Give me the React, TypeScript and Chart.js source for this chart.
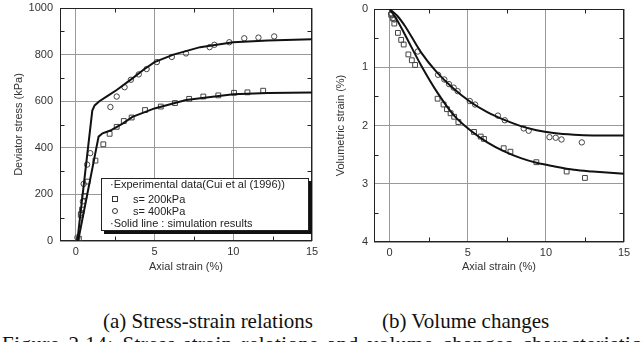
import React, { useEffect, useRef } from "react";
import { Chart, registerables } from "chart.js";

Chart.register(...registerables);

const FONT = '"Liberation Sans", Arial, sans-serif';
const SERIF = '"Liberation Serif", "Times New Roman", serif';
const TEXT = "#333";

// Axis ticks
const X_TICKS = [0, 5, 10, 15];
const X_MINOR = [2.5, 7.5, 12.5];
const STRESS_TICKS = [0, 200, 400, 600, 800, 1000];
const STRESS_MINOR = [100, 300, 500, 700, 900];
const VOL_TICKS = [0, 1, 2, 3, 4];
const VOL_MINOR = [0.5, 1.5, 2.5, 3.5];

// (a) Stress-strain: simulation lines
const SIM400_X = [0.1, 1.05, 1.2, 1.5, 2.0, 2.6, 3.6, 4.3, 5.0, 6.2, 7.9, 10.0, 12.2, 15];
const SIM400_Y = [0, 560, 582, 600, 622, 648, 698, 735, 768, 800, 832, 853, 861, 866];
const SIM200_X = [0.15, 1.45, 1.7, 2.2, 3.0, 3.6, 5.0, 7.0, 10.0, 12.2, 15];
const SIM200_Y = [0, 448, 462, 474, 505, 533, 569, 605, 630, 635, 637];

// (a) Stress-strain: experimental data
const EXP200_X = [0.2, 0.32, 0.4, 0.55, 0.75, 1.25, 1.75, 2.15, 2.6, 3.05, 3.55, 4.4, 5.4, 6.3, 7.2, 8.1, 9.05, 10.05, 10.9, 11.9];
const EXP200_Y = [10, 112, 135, 193, 255, 345, 415, 460, 490, 515, 530, 562, 577, 592, 610, 620, 625, 636, 638, 645];
const EXP400_X = [0.1, 0.35, 0.45, 0.5, 0.72, 0.92, 2.2, 2.6, 3.1, 3.5, 4.0, 4.5, 5.15, 6.1, 7.0, 8.5, 8.8, 9.75, 10.7, 11.6, 12.6];
const EXP400_Y = [15, 120, 170, 245, 328, 377, 575, 620, 660, 692, 715, 738, 768, 790, 805, 832, 842, 853, 870, 873, 878];

// (b) Volume changes: simulation lines
const VSIM400_X = [0, 0.5, 1, 2, 3, 4.1, 5.2, 6.25, 7.3, 8.4, 9.4, 10.5, 11.8, 13, 15];
const VSIM400_Y = [0, 0.12, 0.3, 0.74, 1.08, 1.37, 1.6, 1.77, 1.9, 2.01, 2.08, 2.13, 2.16, 2.17, 2.17];
const VSIM200_X = [0, 0.5, 1, 2, 3.07, 4.13, 5.2, 6.25, 7.3, 8.4, 9.4, 10.5, 11.8, 13, 15];
const VSIM200_Y = [0, 0.2, 0.45, 0.96, 1.44, 1.83, 2.09, 2.29, 2.44, 2.56, 2.64, 2.7, 2.76, 2.79, 2.83];

// (b) Volume changes: experimental data
const VEXP200_X = [0.1, 0.2, 0.3, 0.53, 0.74, 0.9, 1.2, 1.42, 1.63, 3.07, 3.45, 3.67, 3.9, 4.13, 4.4, 5.4, 5.83, 6.04, 7.3, 7.73, 9.39, 11.33, 12.5];
const VEXP200_Y = [0.1, 0.16, 0.25, 0.41, 0.53, 0.61, 0.78, 0.88, 0.96, 1.54, 1.64, 1.72, 1.79, 1.85, 1.94, 2.11, 2.19, 2.23, 2.39, 2.45, 2.63, 2.79, 2.9];
const VEXP400_X = [0.1, 0.3, 1.8, 3.1, 3.5, 3.8, 4.1, 4.35, 5.13, 5.47, 6.93, 7.37, 8.58, 8.9, 10.23, 10.63, 11.0, 12.3];
const VEXP400_Y = [0.08, 0.18, 0.73, 1.13, 1.21, 1.29, 1.35, 1.41, 1.58, 1.64, 1.83, 1.91, 2.05, 2.09, 2.2, 2.21, 2.24, 2.29];

const pts = (xs: number[], ys: number[]) => xs.map((x, i) => ({ x, y: ys[i] }));

const framePlugin = {
  id: "frame",
  beforeDatasetsDraw(chart: any, _args: any, opts: any) {
    const { ctx, chartArea: a, scales } = chart;
    ctx.save();
    ctx.strokeStyle = "#222";
    ctx.lineWidth = 1;
    const L = Math.round(a.left) + 0.5;
    const T = Math.round(a.top) + 0.5;
    const R = Math.round(a.right) - 0.5;
    const B = Math.round(a.bottom) - 0.5;
    ctx.strokeRect(L, T, R - L, B - T);
    const len = 4;
    ctx.beginPath();
    (opts.xMinor || []).forEach((v: number) => {
      const px = Math.round(scales.x.getPixelForValue(v)) + 0.5;
      ctx.moveTo(px, B);
      ctx.lineTo(px, B - len);
      ctx.moveTo(px, T);
      ctx.lineTo(px, T + len);
    });
    (opts.yMinor || []).forEach((v: number) => {
      const py = Math.round(scales.y.getPixelForValue(v)) + 0.5;
      ctx.moveTo(L, py);
      ctx.lineTo(L + len, py);
      ctx.moveTo(R, py);
      ctx.lineTo(R - len, py);
    });
    ctx.stroke();
    ctx.restore();
  },
};

const tickFont = { family: FONT, size: 11 };

function lineDs(data: any[], smooth: boolean) {
  return {
    data,
    showLine: true,
    borderColor: "#111",
    borderWidth: 2,
    pointRadius: 0,
    tension: smooth ? 0.4 : 0,
    cubicInterpolationMode: smooth ? "monotone" : "default",
  };
}

function markDs(data: any[], style: string) {
  return {
    data,
    showLine: false,
    pointStyle: style,
    pointRadius: style === "rect" ? 3.4 : 2.7,
    borderColor: "#444",
    borderWidth: 1,
    backgroundColor: "rgba(255,255,255,0)",
  };
}

function zeroPad(s: any) {
  s.paddingTop = 0;
  s.paddingBottom = 0;
  s.paddingLeft = 0;
  s.paddingRight = 0;
}

function makeConfig(opts: any) {
  return {
    type: "scatter",
    data: { datasets: opts.datasets },
    plugins: [framePlugin],
    options: {
      responsive: false,
      animation: false,
      layout: { padding: { left: 0, right: opts.padRight, top: opts.padTop, bottom: 0 } },
      plugins: {
        legend: { display: false },
        tooltip: { enabled: false },
        frame: { xMinor: X_MINOR, yMinor: opts.yMinor },
      },
      scales: {
        x: {
          type: "linear",
          min: -1,
          max: 15,
          afterBuildTicks: (s: any) => {
            s.ticks = X_TICKS.map((v) => ({ value: v }));
          },
          afterFit: (s: any) => {
            s.height = opts.xHeight;
            zeroPad(s);
          },
          grid: { color: "#9a9a9a", drawTicks: false, lineWidth: 1 },
          border: { display: false },
          ticks: { padding: 4, color: TEXT, font: tickFont, callback: (v: any) => String(v) },
          title: {
            display: true,
            text: "Axial strain (%)",
            color: TEXT,
            font: tickFont,
            padding: { top: 0, bottom: 6 },
          },
        },
        y: {
          type: "linear",
          min: opts.yMin,
          max: opts.yMax,
          reverse: opts.reverse,
          afterBuildTicks: (s: any) => {
            s.ticks = opts.yTicks.map((v: number) => ({ value: v }));
          },
          afterFit: (s: any) => {
            s.width = opts.yWidth;
            zeroPad(s);
          },
          grid: { color: "#9a9a9a", drawTicks: false, lineWidth: 1 },
          border: { display: false },
          ticks: { padding: opts.yPad, color: TEXT, font: tickFont, callback: (v: any) => String(v) },
          title: {
            display: true,
            text: opts.yTitle,
            color: TEXT,
            font: tickFont,
            padding: { top: opts.yTitleTop, bottom: 0 },
          },
        },
      },
    },
  };
}

function ChartCanvas({ config, width, height, left, top }: any) {
  const ref = useRef<HTMLCanvasElement>(null);
  useEffect(() => {
    const chart = new Chart(ref.current as HTMLCanvasElement, config);
    return () => chart.destroy();
  }, []);
  return (
    <canvas
      ref={ref}
      width={width}
      height={height}
      style={{ position: "absolute", left, top, width, height }}
    />
  );
}

const legendText: React.CSSProperties = {
  position: "absolute",
  fontFamily: FONT,
  fontSize: 11,
  lineHeight: "12px",
  color: "#222",
  whiteSpace: "nowrap",
};

const captionStyle: React.CSSProperties = {
  position: "absolute",
  fontFamily: SERIF,
  fontSize: 21,
  lineHeight: "24px",
  color: "#111",
  whiteSpace: "nowrap",
};

export default function App() {
  const stressConfig = makeConfig({
    datasets: [
      lineDs(pts(SIM400_X, SIM400_Y), false),
      lineDs(pts(SIM200_X, SIM200_Y), false),
      markDs(pts(EXP200_X, EXP200_Y), "rect"),
      markDs(pts(EXP400_X, EXP400_Y), "circle"),
    ],
    padRight: 8,
    padTop: 8,
    xHeight: 39,
    yWidth: 60,
    yPad: 7,
    yTitleTop: 12,
    yMin: 0,
    yMax: 1000,
    reverse: false,
    yTicks: STRESS_TICKS,
    yMinor: STRESS_MINOR,
    yTitle: "Deviator stress (kPa)",
  });
  const volConfig = makeConfig({
    datasets: [
      lineDs(pts(VSIM400_X, VSIM400_Y), true),
      lineDs(pts(VSIM200_X, VSIM200_Y), true),
      markDs(pts(VEXP200_X, VEXP200_Y), "rect"),
      markDs(pts(VEXP400_X, VEXP400_Y), "circle"),
    ],
    padRight: 19,
    padTop: 9,
    xHeight: 38,
    yWidth: 54,
    yPad: 6,
    yTitleTop: 14,
    yMin: 0,
    yMax: 4,
    reverse: true,
    yTicks: VOL_TICKS,
    yMinor: VOL_MINOR,
    yTitle: "Volumetric strain (%)",
  });

  return (
    <div
      style={{
        position: "fixed",
        left: 0,
        top: 0,
        width: 643,
        height: 342,
        overflow: "hidden",
        background: "#fff",
      }}
    >
      <ChartCanvas config={stressConfig} width={320} height={280} left={0} top={0} />
      <ChartCanvas config={volConfig} width={323} height={280} left={320} top={0} />

      <div
        style={{
          position: "absolute",
          left: 101,
          top: 178,
          width: 206,
          height: 51,
          border: "1px solid #222",
          background: "#fff",
          boxShadow: "3px 3px 0 #111",
        }}
      />
      <div style={{ ...legendText, left: 110, top: 178 }}>·Experimental data(Cui et al (1996))</div>
      <div
        style={{
          position: "absolute",
          left: 112,
          top: 196,
          width: 4,
          height: 4,
          border: "1px solid #333",
        }}
      />
      <div style={{ ...legendText, left: 133, top: 193 }}>s= 200kPa</div>
      <div
        style={{
          position: "absolute",
          left: 112,
          top: 208,
          width: 4,
          height: 4,
          border: "1px solid #333",
          borderRadius: "50%",
        }}
      />
      <div style={{ ...legendText, left: 133, top: 205 }}>s= 400kPa</div>
      <div style={{ ...legendText, left: 110, top: 217 }}>·Solid line : simulation results</div>

      <div style={{ ...captionStyle, left: 103, top: 309 }}>(a) Stress-strain relations</div>
      <div style={{ ...captionStyle, left: 382, top: 309 }}>(b) Volume changes</div>
      <div style={{ ...captionStyle, left: 2, top: 332, letterSpacing: 0.5, wordSpacing: 3 }}>
        Figure 2.14: Stress-strain relations and volume changes characteristics
      </div>
    </div>
  );
}
